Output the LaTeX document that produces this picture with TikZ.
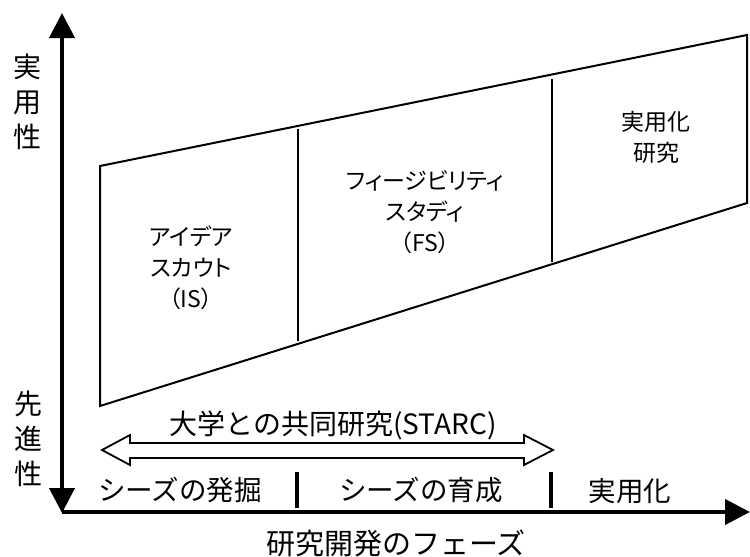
\documentclass[tikz,border=0pt]{standalone}
\usepackage{fontspec}
\setmainfont{Noto Sans CJK JP}
\newfontfamily\jpp[RawFeature=+palt]{Noto Sans CJK JP}
\usetikzlibrary{arrows.meta}
\begin{document}
\begin{tikzpicture}[x=1pt,y=-1pt,
  tipA/.tip={Triangle[length=25pt,width=25pt]},
  axisline/.style={line width=4pt},
  frameline/.style={line width=2pt, line join=miter},
  divline/.style={line width=2pt},
  tickline/.style={line width=4pt},
  boxarrow/.style={line width=1.8pt, line join=miter, fill=white},
  axlabel/.style={font=\fontsize{28}{35}\selectfont, align=center, inner sep=0pt},
  phase/.style={font=\fontsize{27.5}{30}\selectfont, inner sep=0pt},
  xlabel/.style={font=\fontsize{29}{32}\selectfont, inner sep=0pt},
  panel/.style={font=\jpp\fontsize{23}{31}\selectfont, align=center, inner sep=0pt}]
\useasboundingbox (0,0) rectangle (750,557);

% axes
\coordinate (ytop) at (62,13);
\coordinate (ybot) at (62,513);
\coordinate (xorg) at (62,512);
\coordinate (xend) at (750,512);
\draw[axisline, tipA-tipA] (ybot) -- (ytop);
\draw[axisline, -tipA] (xorg) -- (xend);

% parallelogram
\coordinate (TL) at (100,166);
\coordinate (BL) at (100,406);
\coordinate (TR) at (747,35);
\coordinate (BR) at (747,203);
\draw[frameline] (TL) -- (TR) -- (BR) -- (BL) -- cycle;
\coordinate (d1t) at (298,129);
\coordinate (d1b) at (298,341);
\coordinate (d2t) at (552,79);
\coordinate (d2b) at (552,262);
\draw[divline] (d1t) -- (d1b);
\draw[divline] (d2t) -- (d2b);

% panel texts
\node[panel] (is) at (191,268) {アイデア\\スカウト\\（IS）};
\node[panel] (fs) at (425,212) {フィージビリティ\\スタディ\\（FS）};
\node[panel] (pr) at (656,137) {実用化\\研究};

% axis labels
\node[axlabel] (yup) at (27,102) {実\\用\\性};
\node[axlabel] (ydown) at (28,439) {先\\進\\性};
\node[xlabel] (xl) at (396,543) {研究開発のフェーズ};

% double arrow
\draw[boxarrow] (102,450) -- (130,435) -- (130,443) -- (524,443) -- (524,435)
  -- (553,450) -- (524,465) -- (524,458) -- (130,458) -- (130,465) -- cycle;
\node[phase, font=\fontsize{28}{30}\selectfont] (starc) at (333,425) {大学との共同研究(STARC)};

% phases
\node[phase] (p1) at (180,490) {シーズの発掘};
\node[phase] (p2) at (421,490) {シーズの育成};
\node[phase] (p3) at (630,491) {実用化};
\coordinate (t1t) at (297,472);
\coordinate (t1b) at (297,508);
\coordinate (t2t) at (551,472);
\coordinate (t2b) at (551,508);
\draw[tickline] (t1t) -- (t1b);
\draw[tickline] (t2t) -- (t2b);
\end{tikzpicture}
\end{document}
